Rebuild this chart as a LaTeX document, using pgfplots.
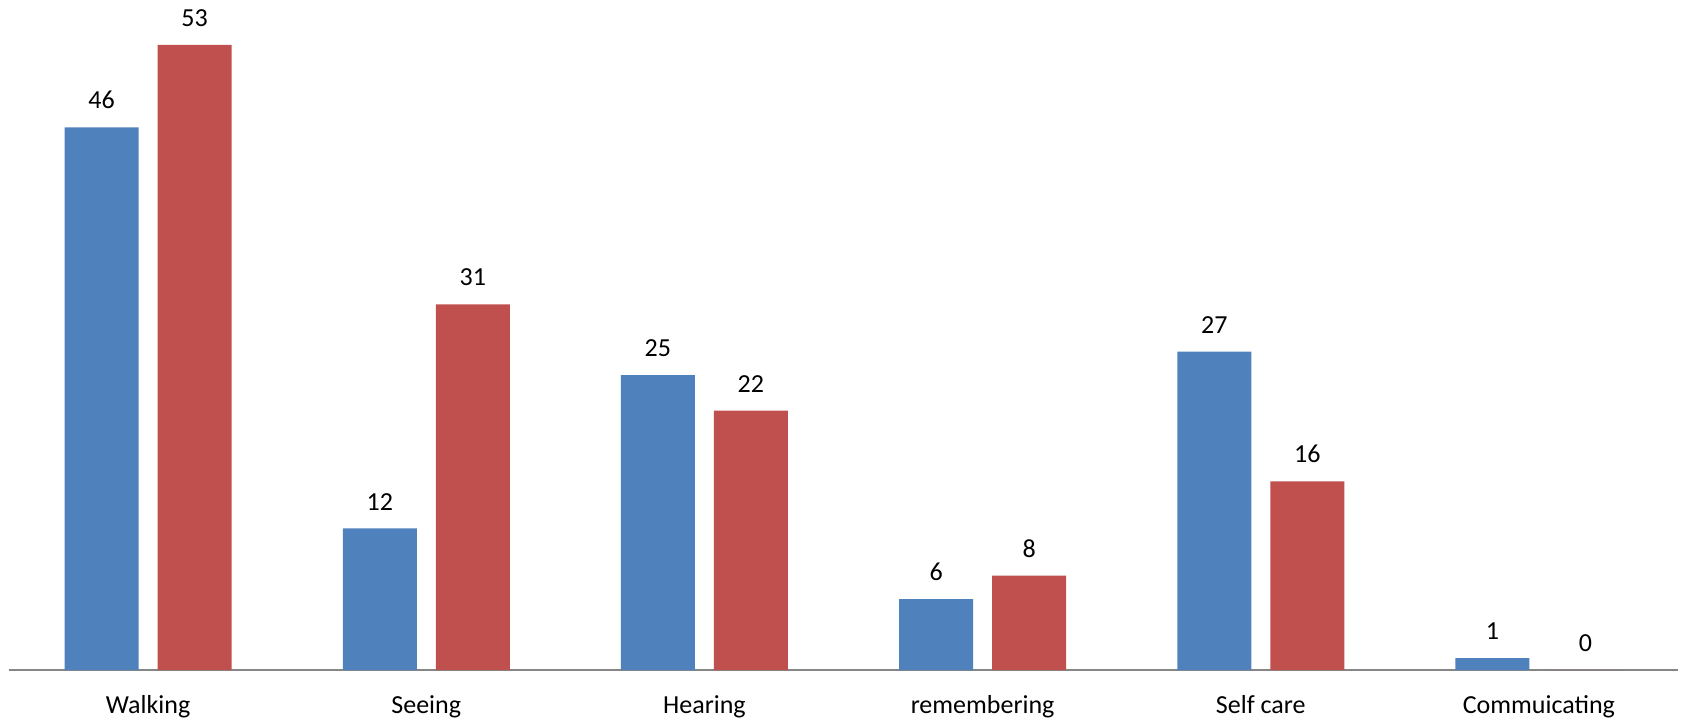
\documentclass[border=0pt]{standalone}
\usepackage{pgfplots}
\pgfplotsset{compat=1.18}
\usepackage{fontspec}
\setmainfont{Carlito}
\definecolor{serA}{HTML}{4F81BD}
\definecolor{serB}{HTML}{C0504D}
\definecolor{axgray}{HTML}{868686}
\begin{document}
\fontsize{13}{15}\selectfont
\begin{tikzpicture}
\begin{axis}[
  name=main,
  scale only axis,
  width=834.5pt, height=335pt,
  xmin=-0.5, xmax=5.5,
  ymin=0, ymax=56.8,
  ybar=9.5pt, bar width=37pt,
  axis y line=none,
  axis x line*=bottom,
  x axis line style={-, color=axgray, line width=0.8pt},
  xtick={0,1,2,3,4,5},
  xticklabels={Walking,Seeing,Hearing,remembering,Self care,Commuicating},
  major tick length=0pt,
  xticklabel style={anchor=base, yshift=-21.5pt, font=\fontsize{13}{15}\selectfont},
  /pgf/number format/assume math mode=true,
  nodes near coords,
  every node near coord/.append style={anchor=south, inner sep=0pt, yshift=9pt, font=\fontsize{13}{15}\selectfont, color=black},
  clip=false,
]
\addplot[fill=serA, draw=none] coordinates {(0,46) (1,12) (2,25) (3,6) (4,27) (5,1)};
\addplot[fill=serB, draw=none] coordinates {(0,53) (1,31) (2,22) (3,8) (4,16) (5,0)};
\end{axis}
\pgfresetboundingbox
\useasboundingbox ([xshift=-4.5pt,yshift=-25.5pt]main.south west) rectangle ([xshift=2.5pt]main.north east);
\end{tikzpicture}
\end{document}
